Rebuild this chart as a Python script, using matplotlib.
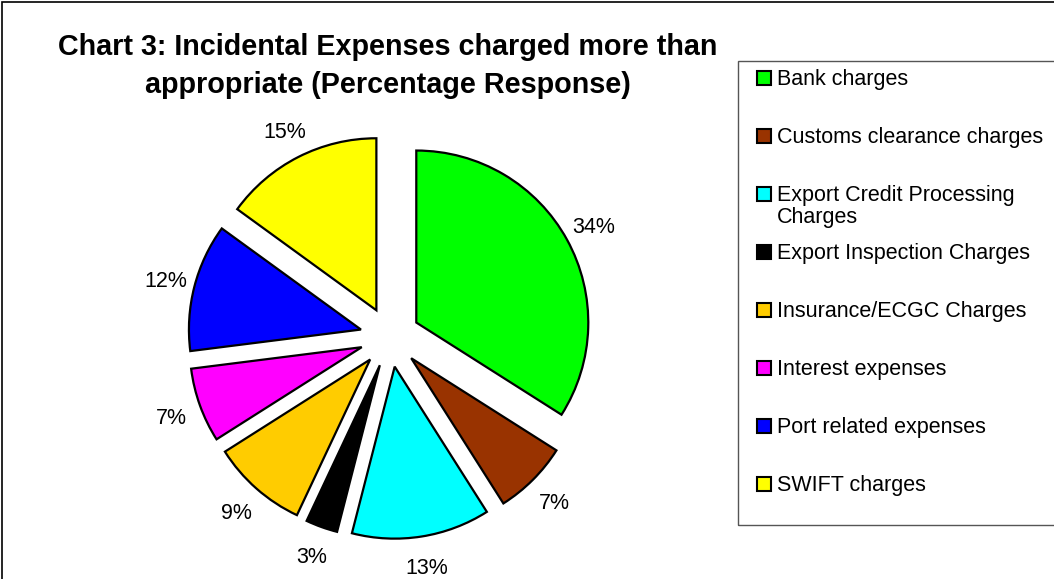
import matplotlib.pyplot as plt
import matplotlib.patches as mpatches

plt.rcParams['font.family'] = ['Liberation Sans', 'DejaVu Sans']

# datos del grafico
categorias = ['Bank charges', 'Customs clearance charges',
              'Export Credit Processing\nCharges', 'Export Inspection Charges',
              'Insurance/ECGC Charges', 'Interest expenses',
              'Port related expenses', 'SWIFT charges']
valores = [34, 7, 13, 3, 9, 7, 12, 15]
etiquetas = ['34%', '7%', '13%', '3%', '9%', '7%', '12%', '15%']
colores = ['#00FF00', '#993300', '#00FFFF', '#000000',
           '#FFCC00', '#FF00FF', '#0000FF', '#FFFF00']

W, H = 1054, 579
fig = plt.figure(figsize=(W / 100, H / 100), dpi=100)
ax = fig.add_axes([0, 0, 1, 1])

def py(y):
    # coordenada de pixel (desde arriba) a datos
    return H - y

radio = 172
separacion = 30
centro = (390, py(337))

wedges, texts = ax.pie(valores, labels=etiquetas, colors=colores,
                       explode=[separacion] * len(valores), radius=radio,
                       center=centro, startangle=90, counterclock=False,
                       labeldistance=1.174, frame=True,
                       wedgeprops=dict(edgecolor='black', linewidth=1.6),
                       textprops=dict(fontsize=15.5, color='black'))
for t in texts:
    t.set_ha('center')
    t.set_va('center_baseline')
ax.set_xlim(0, W)
ax.set_ylim(0, H)
ax.set_aspect('auto')
ax.axis('off')

# borde del area del grafico
ax.add_patch(mpatches.Rectangle((2, -10), W + 20, py(2) + 10, fill=False,
                                edgecolor='black', lw=1.2))

ax.text(388, py(66), 'Chart 3: Incidental Expenses charged more than\nappropriate (Percentage Response)',
        ha='center', va='center', fontsize=20.7, fontweight='bold', linespacing=1.43)

# leyenda dibujada a mano (estilo Excel)
ax.add_patch(mpatches.Rectangle((738, py(525)), W + 20 - 738, 525 - 61, fill=False,
                                edgecolor='#555555', lw=1.0))
for i, (cat, col) in enumerate(zip(categorias, colores)):
    yc = 78 + 58.0 * i
    ax.add_patch(mpatches.Rectangle((757, py(yc) - 7), 14, 14, facecolor=col,
                                    edgecolor='black', lw=1.5))
    ax.text(777, py(yc) + 9.5, cat, ha='left', va='top', fontsize=15.5,
            linespacing=1.12)

fig.savefig('out.png', dpi=100)
